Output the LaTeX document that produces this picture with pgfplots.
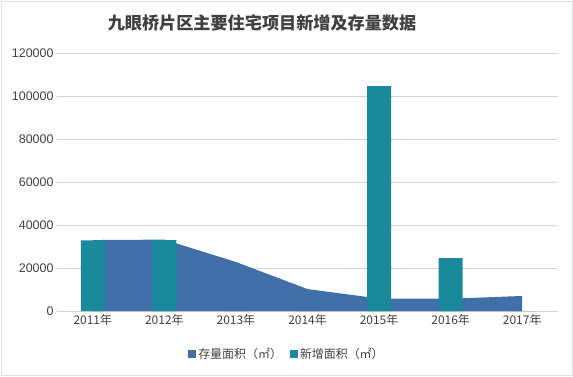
\documentclass[border=0pt]{standalone}
\usepackage{pgfplots}
\pgfplotsset{compat=1.18}
\usepackage{fontspec}
\setmainfont{Liberation Sans}
\newfontfamily\cjk{Noto Sans CJK SC}
\definecolor{areablue}{HTML}{4170A9}
\definecolor{barteal}{HTML}{1A899C}
\definecolor{titlegray}{HTML}{404040}
\definecolor{ticklab}{HTML}{404040}
\begin{document}
\begin{tikzpicture}[x=1bp,y=1bp]
\path[use as bounding box] (0,0) rectangle (573,376);
\draw[gray!25] (1,1) rectangle (572,375);
\node[font=\cjk\bfseries\fontsize{17.2}{20}\selectfont, text=titlegray] at (262,353) {九眼桥片区主要住宅项目新增及存量数据};
\begin{axis}[
  at={(57bp,65bp)}, anchor=south west, scale only axis,
  width=501bp, height=258bp,
  xmin=-0.5, xmax=6.5, ymin=0, ymax=120000,
  xtick={0,1,2,3,4,5,6},
  xticklabels={{2011年},{2012年},{2013年},{2014年},{2015年},{2016年},{2017年}},
  ytick={0,20000,40000,60000,80000,100000,120000},
  yticklabels={{0},{20000},{40000},{60000},{80000},{100000},{120000}},
  ymajorgrids, grid style={draw=gray!35, line width=0.6bp},
  axis line style={draw=none}, major tick length=0,
  tick label style={font=\fontsize{12.5}{14}\selectfont, text=ticklab},
  xticklabel style={font=\cjk\fontsize{12}{14}\selectfont},
  scaled y ticks=false,
  legend style={at={(0.459,-0.167)}, anchor=center, draw=none, fill=none,
    legend columns=2, font=\cjk\fontsize{12}{14}\selectfont, text=ticklab,
    /tikz/every even column/.append style={column sep=6bp}},
]
\addplot[fill=areablue, draw=none, legend image code/.code={\fill[areablue] (0bp,-4bp) rectangle (8bp,4bp);}]
  coordinates {(0,33000) (1,33200) (2,22800) (3,10200) (4,5800) (5,5700) (6,7000)} \closedcycle;
\addlegendentry{存量面积（㎡）}
\addplot[ybar, bar width=24bp, fill=barteal, draw=none, legend image code/.code={\fill[barteal] (0bp,-4bp) rectangle (8bp,4bp);}]
  coordinates {(0,32800) (1,33000) (2,0) (3,0) (4,104600) (5,24600) (6,0)};
\addlegendentry{新增面积（㎡）}
\end{axis}
\end{tikzpicture}
\end{document}
